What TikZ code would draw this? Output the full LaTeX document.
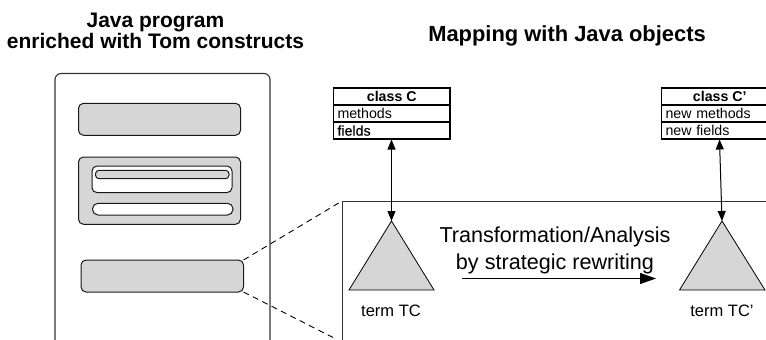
\documentclass[tikz,border=0pt]{standalone}
\usepackage{fontspec}
\setmainfont{Liberation Sans}
\newfontfamily\heavyfont[FakeBold=0.4]{Liberation Sans}
\usetikzlibrary{arrows.meta}
\definecolor{fillgray}{HTML}{D6D6D6}
\definecolor{linegray}{HTML}{333333}
\tikzset{
  every node/.style={inner sep=0pt,outer sep=0pt},
  blockbox/.style={draw=black!90,line width=1pt,anchor=north west,rounded corners=#1},
  blockbox/.default=5pt,
  graybox/.style={blockbox=#1,fill=fillgray},
  graybox/.default=5pt,
  whitebox/.style={blockbox=#1,fill=white},
  whitebox/.default=5pt,
  rowbox/.style={draw=black,line width=1.1pt,anchor=north west,font=\fontsize{14.2}{14}\selectfont,minimum height=17pt,text depth=0pt},
  tri/.style={draw=black,line width=0.8pt,fill=fillgray,line join=miter},
  link/.style={line width=1pt,{Triangle[length=10pt,width=8pt]}-{Triangle[length=10pt,width=8pt]}},
  plain/.style={font=\fontsize{16.5}{18}\selectfont},
  title/.style={font=\fontsize{21}{19}\selectfont\bfseries,align=center},
}
\newcommand{\boxat}[6]{\node[#1,minimum width=#5pt-#3pt,minimum height=#6pt-#4pt] (#2) at (#3,#4) {};}
\begin{document}
\begin{tikzpicture}[x=1pt,y=-1pt]
\useasboundingbox (0,0) rectangle (766,340);
\clip (0,0) rectangle (766,340);
% titles
\node[title] (t1) at (155.5,31) {Java program\\enriched with Tom constructs};
\node[title,font=\fontsize{21.9}{19}\selectfont\bfseries] (t2) at (567,36) {Mapping with Java objects};
% program frame
\boxat{blockbox=6pt,line width=1.1pt,draw=linegray}{prog}{55}{73.5}{270}{360}
\boxat{graybox}{b1}{78.5}{103.3}{240.5}{135.3}
\boxat{graybox}{b2}{78.5}{157}{240.5}{224.3}
\boxat{whitebox}{b2a}{92}{166}{232}{192.6}
\boxat{graybox=3.5pt}{b2b}{95.5}{170.3}{229}{178.7}
\boxat{whitebox=5.5pt}{b2c}{92.5}{203.3}{233}{215}
\boxat{graybox}{b3}{81}{260}{243.5}{292}
% zoom panel
\coordinate (pt) at (342,201);
\coordinate (pb) at (342,345);
\coordinate (pr) at (770,201);
\coordinate (de) at (336,339);
\draw[line width=1pt,draw=linegray] (pb) -- (pt) -- (pr);
\draw[dashed,line width=0.9pt,dash pattern=on 6pt off 4.5pt] (b3.north east) -- (pt);
\draw[dashed,line width=0.9pt,dash pattern=on 6pt off 4.5pt] (b3.south east) -- (de);
% class C
\node[rowbox,minimum width=116.5pt,font=\fontsize{14.2}{14}\selectfont\bfseries] (c1) at (333.5,88) {class C};
\node[rowbox,minimum width=116.5pt,anchor=north,text width=108.5pt] (c2) at (c1.south) {methods};
\node[rowbox,minimum width=116.5pt,anchor=north,text width=108.5pt] (c3) at (c2.south) {\heavyfont fields};
% class C'
\node[rowbox,minimum width=116.5pt,font=\fontsize{14.2}{14}\selectfont\bfseries] (d1) at (661.5,88) {\makebox[104.5pt]{class C'}\hspace{12pt}};
\node[rowbox,minimum width=116.5pt,anchor=north,text width=108.5pt] (d2) at (d1.south) {new methods};
\node[rowbox,minimum width=116.5pt,anchor=north,text width=108.5pt] (d3) at (d2.south) {new fields};
% triangles
\coordinate (ta) at (391.5,221);
\coordinate (tl) at (349,290);
\coordinate (tr) at (434,290);
\coordinate (ua) at (722,221);
\coordinate (ul) at (679.5,290);
\coordinate (ur) at (765,290);
\draw[tri] (ta) -- (tl) -- (tr) -- cycle;
\draw[tri] (ua) -- (ul) -- (ur) -- cycle;
\coordinate (cs) at (391.5,139.5);
\coordinate (ds) at (719.5,139.5);
\draw[link] (cs) -- (ta);
\draw[link] (ds) -- (ua);
\node[plain] (n1) at (391,311) {term TC};
\node[plain] (n2) at (722,311) {term TC'};
% rewriting
\node[font=\fontsize{21.6}{27}\selectfont,align=center] (lab) at (555,250.5) {Transformation/Analysis\\by strategic rewriting};
\coordinate (ra) at (462,278.5);
\coordinate (rb) at (656,278.5);
\draw[line width=1pt,-{Triangle[length=16pt,width=11pt]}] (ra) -- (rb);
\end{tikzpicture}
\end{document}
